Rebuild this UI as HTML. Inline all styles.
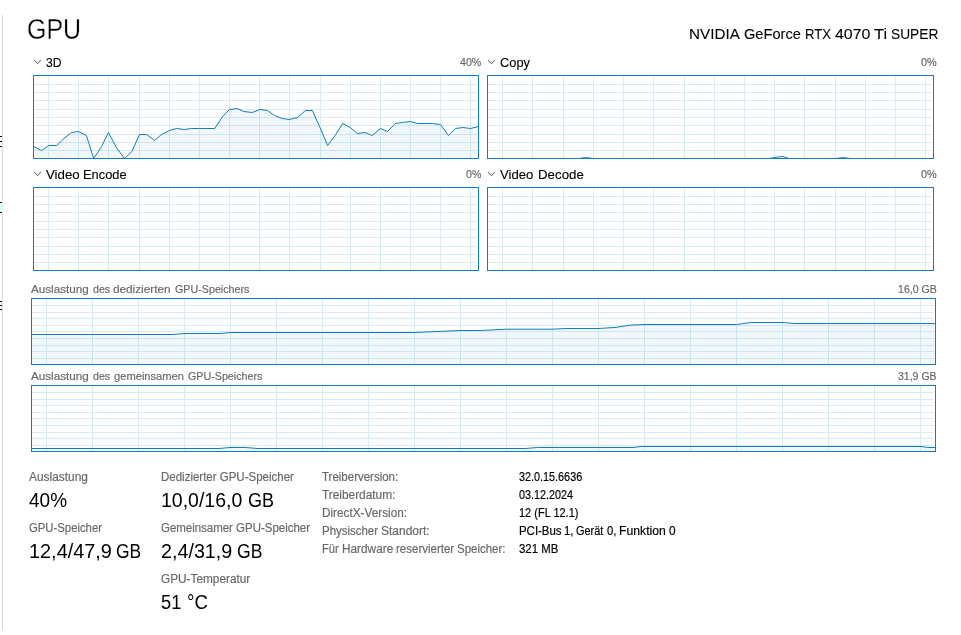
<!DOCTYPE html>
<html lang="de"><head><meta charset="utf-8"><title>GPU</title>
<style>
html,body{margin:0;padding:0;background:#fff;}
body{width:961px;height:635px;position:relative;overflow:hidden;font-family:"Liberation Sans",sans-serif;}
svg{position:absolute;left:0;top:0;}
.t{position:absolute;white-space:nowrap;transform-origin:0 0;display:block;}
</style></head><body>
<svg width="961" height="635" viewBox="0 0 961 635">
<path d="M34 84.5H477M34 92.5H477M34 100.5H477M34 109.5H477M34 117.5H477M34 125.5H477M34 134.5H477M34 142.5H477M34 150.5H477M48.5 76V158M78.5 76V158M108.5 76V158M139.5 76V158M169.5 76V158M199.5 76V158M229.5 76V158M259.5 76V158M289.5 76V158M320.5 76V158M350.5 76V158M380.5 76V158M410.5 76V158M440.5 76V158M470.5 76V158" fill="none" stroke="#d9eaf4" stroke-width="1" shape-rendering="crispEdges"/>
<path d="M33.8 146.5 L41.6 150.5 L48.7 145.5 L56.7 145.5 L64.0 138.5 L71.4 132.5 L78.3 131.5 L86.4 135.5 L93.7 158.5 L101.6 146.5 L108.4 132.5 L116.4 147.5 L124.6 158.5 L131.9 151.5 L139.5 134.5 L146.6 134.5 L154.5 140.5 L161.4 134.5 L169.3 130.5 L176.6 128.5 L184.1 129.5 L191.7 128.5 L199.3 128.5 L206.8 128.5 L214.8 128.5 L222.6 116.5 L229.5 109.5 L237.1 108.5 L244.0 111.5 L252.2 112.5 L259.8 109.5 L267.3 110.5 L274.6 115.5 L282.2 118.5 L289.3 119.5 L297.3 117.5 L305.5 110.5 L312.4 110.5 L320.0 127.5 L327.6 145.5 L335.7 134.5 L342.7 123.5 L350.3 127.5 L357.4 133.5 L365.0 132.5 L372.3 135.5 L380.5 128.5 L387.6 131.5 L395.4 123.5 L402.6 122.5 L410.3 121.5 L417.5 123.5 L425.1 123.5 L432.6 123.5 L440.4 124.5 L448.4 135.5 L455.6 128.5 L462.9 127.5 L470.4 128.5 L478.5 126.5 L478.5 158.5 L33.8 158.5 Z" fill="#117dbb" fill-opacity="0.06" stroke="none"/>
<path d="M33.8 146.5 L41.6 150.5 L48.7 145.5 L56.7 145.5 L64.0 138.5 L71.4 132.5 L78.3 131.5 L86.4 135.5 L93.7 158.5 L101.6 146.5 L108.4 132.5 L116.4 147.5 L124.6 158.5 L131.9 151.5 L139.5 134.5 L146.6 134.5 L154.5 140.5 L161.4 134.5 L169.3 130.5 L176.6 128.5 L184.1 129.5 L191.7 128.5 L199.3 128.5 L206.8 128.5 L214.8 128.5 L222.6 116.5 L229.5 109.5 L237.1 108.5 L244.0 111.5 L252.2 112.5 L259.8 109.5 L267.3 110.5 L274.6 115.5 L282.2 118.5 L289.3 119.5 L297.3 117.5 L305.5 110.5 L312.4 110.5 L320.0 127.5 L327.6 145.5 L335.7 134.5 L342.7 123.5 L350.3 127.5 L357.4 133.5 L365.0 132.5 L372.3 135.5 L380.5 128.5 L387.6 131.5 L395.4 123.5 L402.6 122.5 L410.3 121.5 L417.5 123.5 L425.1 123.5 L432.6 123.5 L440.4 124.5 L448.4 135.5 L455.6 128.5 L462.9 127.5 L470.4 128.5 L478.5 126.5" fill="none" stroke="#117dbb" stroke-width="1" stroke-linejoin="round"/>
<rect x="33.5" y="75.5" width="445" height="83" fill="none" stroke="#117dbb" stroke-width="1" shape-rendering="crispEdges"/>
<path d="M488 84.5H932M488 92.5H932M488 100.5H932M488 109.5H932M488 117.5H932M488 125.5H932M488 134.5H932M488 142.5H932M488 150.5H932M502.5 76V158M532.5 76V158M563.5 76V158M593.5 76V158M623.5 76V158M653.5 76V158M684.5 76V158M714.5 76V158M744.5 76V158M774.5 76V158M804.5 76V158M835.5 76V158M865.5 76V158M895.5 76V158M925.5 76V158" fill="none" stroke="#d9eaf4" stroke-width="1" shape-rendering="crispEdges"/>
<path d="M487.5 158.5 L579.5 158.5 L583.0 157.9 L586.0 157.7 L589.0 157.9 L592.5 158.5 L768.5 158.5 L775.0 157.6 L779.5 156.7 L783.5 156.7 L786.0 157.5 L789.0 158.5 L836.0 158.5 L840.0 157.9 L843.0 157.7 L846.0 157.9 L850.0 158.5 L933.5 158.5 L933.5 158.5 L487.5 158.5 Z" fill="#117dbb" fill-opacity="0.06" stroke="none"/>
<path d="M487.5 158.5 L579.5 158.5 L583.0 157.9 L586.0 157.7 L589.0 157.9 L592.5 158.5 L768.5 158.5 L775.0 157.6 L779.5 156.7 L783.5 156.7 L786.0 157.5 L789.0 158.5 L836.0 158.5 L840.0 157.9 L843.0 157.7 L846.0 157.9 L850.0 158.5 L933.5 158.5" fill="none" stroke="#117dbb" stroke-width="1" stroke-linejoin="round"/>
<rect x="487.5" y="75.5" width="446" height="83" fill="none" stroke="#117dbb" stroke-width="1" shape-rendering="crispEdges"/>
<path d="M34 196.5H477M34 204.5H477M34 212.5H477M34 221.5H477M34 229.5H477M34 237.5H477M34 246.5H477M34 254.5H477M34 262.5H477M48.5 188V270M78.5 188V270M108.5 188V270M139.5 188V270M169.5 188V270M199.5 188V270M229.5 188V270M259.5 188V270M289.5 188V270M320.5 188V270M350.5 188V270M380.5 188V270M410.5 188V270M440.5 188V270M470.5 188V270" fill="none" stroke="#d9eaf4" stroke-width="1" shape-rendering="crispEdges"/>
<rect x="33.5" y="187.5" width="445" height="83" fill="none" stroke="#117dbb" stroke-width="1" shape-rendering="crispEdges"/>
<path d="M488 196.5H932M488 204.5H932M488 212.5H932M488 221.5H932M488 229.5H932M488 237.5H932M488 246.5H932M488 254.5H932M488 262.5H932M502.5 188V270M532.5 188V270M563.5 188V270M593.5 188V270M623.5 188V270M653.5 188V270M684.5 188V270M714.5 188V270M744.5 188V270M774.5 188V270M804.5 188V270M835.5 188V270M865.5 188V270M895.5 188V270M925.5 188V270" fill="none" stroke="#d9eaf4" stroke-width="1" shape-rendering="crispEdges"/>
<rect x="487.5" y="187.5" width="446" height="83" fill="none" stroke="#117dbb" stroke-width="1" shape-rendering="crispEdges"/>
<path d="M32 305.5H934M32 312.5H934M32 318.5H934M32 325.5H934M32 331.5H934M32 338.5H934M32 345.5H934M32 351.5H934M32 358.5H934M46.5 299V364M92.5 299V364M138.5 299V364M184.5 299V364M230.5 299V364M276.5 299V364M322.5 299V364M368.5 299V364M414.5 299V364M460.5 299V364M506.5 299V364M552.5 299V364M598.5 299V364M644.5 299V364M690.5 299V364M736.5 299V364M782.5 299V364M828.5 299V364M874.5 299V364M920.5 299V364" fill="none" stroke="#d9eaf4" stroke-width="1" shape-rendering="crispEdges"/>
<path d="M31.5 334.5 L172.0 334.5 L185.0 333.5 L220.0 333.5 L230.5 332.5 L415.0 332.5 L460.0 330.5 L480.0 330.5 L506.5 329.2 L552.0 329.2 L567.0 328.5 L598.0 328.5 L615.0 327.5 L630.0 325.2 L644.0 324.5 L736.5 324.5 L751.0 322.5 L782.0 322.5 L795.0 323.5 L935.5 323.5 L935.5 364.5 L31.5 364.5 Z" fill="#117dbb" fill-opacity="0.06" stroke="none"/>
<path d="M31.5 334.5 L172.0 334.5 L185.0 333.5 L220.0 333.5 L230.5 332.5 L415.0 332.5 L460.0 330.5 L480.0 330.5 L506.5 329.2 L552.0 329.2 L567.0 328.5 L598.0 328.5 L615.0 327.5 L630.0 325.2 L644.0 324.5 L736.5 324.5 L751.0 322.5 L782.0 322.5 L795.0 323.5 L935.5 323.5" fill="none" stroke="#117dbb" stroke-width="1" stroke-linejoin="round"/>
<rect x="31.5" y="298.5" width="904" height="66" fill="none" stroke="#117dbb" stroke-width="1" shape-rendering="crispEdges"/>
<path d="M32 392.5H934M32 399.5H934M32 405.5H934M32 412.5H934M32 418.5H934M32 425.5H934M32 432.5H934M32 438.5H934M32 445.5H934M46.5 386V451M92.5 386V451M138.5 386V451M184.5 386V451M230.5 386V451M276.5 386V451M322.5 386V451M368.5 386V451M414.5 386V451M460.5 386V451M506.5 386V451M552.5 386V451M598.5 386V451M644.5 386V451M690.5 386V451M736.5 386V451M782.5 386V451M828.5 386V451M874.5 386V451M920.5 386V451" fill="none" stroke="#d9eaf4" stroke-width="1" shape-rendering="crispEdges"/>
<path d="M31.5 448.5 L219.0 448.5 L230.0 447.5 L245.0 447.5 L258.0 448.5 L525.0 448.5 L537.5 447.5 L633.0 447.5 L641.0 446.5 L921.0 446.5 L929.0 447.5 L935.5 447.5 L935.5 451.5 L31.5 451.5 Z" fill="#117dbb" fill-opacity="0.06" stroke="none"/>
<path d="M31.5 448.5 L219.0 448.5 L230.0 447.5 L245.0 447.5 L258.0 448.5 L525.0 448.5 L537.5 447.5 L633.0 447.5 L641.0 446.5 L921.0 446.5 L929.0 447.5 L935.5 447.5" fill="none" stroke="#117dbb" stroke-width="1" stroke-linejoin="round"/>
<rect x="31.5" y="385.5" width="904" height="66" fill="none" stroke="#117dbb" stroke-width="1" shape-rendering="crispEdges"/>
<path d="M34.5 60.5 L37.5 63.5 L40.5 60.5" fill="none" stroke="#787878" stroke-width="1.05" stroke-linecap="square"/>
<path d="M488.5 60.5 L491.5 63.5 L494.5 60.5" fill="none" stroke="#787878" stroke-width="1.05" stroke-linecap="square"/>
<path d="M34.5 172.5 L37.5 175.5 L40.5 172.5" fill="none" stroke="#787878" stroke-width="1.05" stroke-linecap="square"/>
<path d="M488.5 172.5 L491.5 175.5 L494.5 172.5" fill="none" stroke="#787878" stroke-width="1.05" stroke-linecap="square"/>
<rect x="2" y="15" width="1" height="615" fill="#d6d6d6" shape-rendering="crispEdges"/>
<rect x="0" y="136" width="2" height="1" fill="#000" shape-rendering="crispEdges"/>
<rect x="0" y="141" width="2" height="1" fill="#000" shape-rendering="crispEdges"/>
<rect x="0" y="146" width="2" height="1" fill="#000" shape-rendering="crispEdges"/>
<rect x="0" y="203" width="1" height="9" fill="#ccffff" shape-rendering="crispEdges"/>
<rect x="2" y="136" width="1" height="11" fill="#e4e4e4" shape-rendering="crispEdges"/>
<rect x="2" y="202" width="1" height="11" fill="#e4e4e4" shape-rendering="crispEdges"/>
<rect x="2" y="301" width="1" height="9" fill="#e4e4e4" shape-rendering="crispEdges"/>
<rect x="0" y="202" width="2" height="1" fill="#000" shape-rendering="crispEdges"/>
<rect x="0" y="212" width="2" height="1" fill="#000" shape-rendering="crispEdges"/>
<rect x="1" y="302" width="1" height="7" fill="#ffe6b3" shape-rendering="crispEdges"/>
<rect x="0" y="301" width="2" height="1" fill="#000" shape-rendering="crispEdges"/>
<rect x="0" y="305" width="2" height="1" fill="#000" shape-rendering="crispEdges"/>
<rect x="0" y="309" width="2" height="1" fill="#000" shape-rendering="crispEdges"/>
</svg>
<div class="l"><span class="t" style="left:26.61px;top:15px;font-size:29px;line-height:29px;color:#000000;transform:scaleX(0.8610);-webkit-text-stroke:0.3px #fff">GPU</span></div>
<div class="l"><span class="t" style="left:688.86px;top:26px;font-size:15.4px;line-height:15.4px;color:#000000;transform:scaleX(0.9900);-webkit-text-stroke:0.1px">NVIDIA</span> <span class="t" style="left:744.09px;top:26px;font-size:15.4px;line-height:15.4px;color:#000000;transform:scaleX(0.9487);-webkit-text-stroke:0.1px">GeForce</span> <span class="t" style="left:805.14px;top:26px;font-size:15.4px;line-height:15.4px;color:#000000;transform:scaleX(0.8487);-webkit-text-stroke:0.1px">RTX</span> <span class="t" style="left:835.04px;top:26px;font-size:15.4px;line-height:15.4px;color:#000000;transform:scaleX(1.0328);-webkit-text-stroke:0.1px">4070</span> <span class="t" style="left:874.33px;top:26px;font-size:15.4px;line-height:15.4px;color:#000000;transform:scaleX(1.0636);-webkit-text-stroke:0.1px">Ti</span> <span class="t" style="left:891.13px;top:26px;font-size:15.4px;line-height:15.4px;color:#000000;transform:scaleX(0.8932);-webkit-text-stroke:0.1px">SUPER</span></div>
<div class="l"><span class="t" style="left:46.13px;top:56px;font-size:13px;line-height:13px;color:#000000;transform:scaleX(0.9355);-webkit-text-stroke:0.12px">3D</span></div>
<div class="l"><span class="t" style="left:459.77px;top:57px;font-size:11.5px;line-height:11.5px;color:#686868;transform:scaleX(0.9244);-webkit-text-stroke:0.18px">40%</span></div>
<div class="l"><span class="t" style="left:499.76px;top:56px;font-size:13px;line-height:13px;color:#000000;transform:scaleX(0.9864);-webkit-text-stroke:0.12px">Copy</span></div>
<div class="l"><span class="t" style="left:920.63px;top:57px;font-size:11.5px;line-height:11.5px;color:#686868;transform:scaleX(0.9460);-webkit-text-stroke:0.18px">0%</span></div>
<div class="l"><span class="t" style="left:46.00px;top:168px;font-size:13px;line-height:13px;color:#000000;transform:scaleX(1.0185);-webkit-text-stroke:0.12px">Video</span> <span class="t" style="left:83.31px;top:168px;font-size:13px;line-height:13px;color:#000000;transform:scaleX(0.9882);-webkit-text-stroke:0.12px">Encode</span></div>
<div class="l"><span class="t" style="left:465.84px;top:169px;font-size:11.5px;line-height:11.5px;color:#686868;transform:scaleX(0.9206);-webkit-text-stroke:0.18px">0%</span></div>
<div class="l"><span class="t" style="left:500.30px;top:168px;font-size:13px;line-height:13px;color:#000000;transform:scaleX(1.0123);-webkit-text-stroke:0.12px">Video</span> <span class="t" style="left:537.58px;top:168px;font-size:13px;line-height:13px;color:#000000;transform:scaleX(1.0220);-webkit-text-stroke:0.12px">Decode</span></div>
<div class="l"><span class="t" style="left:920.63px;top:169px;font-size:11.5px;line-height:11.5px;color:#686868;transform:scaleX(0.9460);-webkit-text-stroke:0.18px">0%</span></div>
<div class="l"><span class="t" style="left:31.20px;top:284px;font-size:11.5px;line-height:11.5px;color:#686868;transform:scaleX(1.0151);-webkit-text-stroke:0.18px">Auslastung</span> <span class="t" style="left:92.54px;top:284px;font-size:11.5px;line-height:11.5px;color:#686868;transform:scaleX(0.9239);-webkit-text-stroke:0.18px">des</span> <span class="t" style="left:113.49px;top:284px;font-size:11.5px;line-height:11.5px;color:#686868;transform:scaleX(1.0218);-webkit-text-stroke:0.18px">dedizierten</span> <span class="t" style="left:174.53px;top:284px;font-size:11.5px;line-height:11.5px;color:#686868;transform:scaleX(0.9316);-webkit-text-stroke:0.18px">GPU-Speichers</span></div>
<div class="l"><span class="t" style="left:898.01px;top:284px;font-size:11.5px;line-height:11.5px;color:#686868;transform:scaleX(0.9202);-webkit-text-stroke:0.18px">16,0 GB</span></div>
<div class="l"><span class="t" style="left:31.20px;top:371px;font-size:11.5px;line-height:11.5px;color:#686868;transform:scaleX(1.0151);-webkit-text-stroke:0.18px">Auslastung</span> <span class="t" style="left:92.54px;top:371px;font-size:11.5px;line-height:11.5px;color:#686868;transform:scaleX(0.9239);-webkit-text-stroke:0.18px">des</span> <span class="t" style="left:113.52px;top:371px;font-size:11.5px;line-height:11.5px;color:#686868;transform:scaleX(0.9690);-webkit-text-stroke:0.18px">gemeinsamen</span> <span class="t" style="left:187.53px;top:371px;font-size:11.5px;line-height:11.5px;color:#686868;transform:scaleX(0.9304);-webkit-text-stroke:0.18px">GPU-Speichers</span></div>
<div class="l"><span class="t" style="left:898.24px;top:371px;font-size:11.5px;line-height:11.5px;color:#686868;transform:scaleX(0.9146);-webkit-text-stroke:0.18px">31,9 GB</span></div>
<div class="l"><span class="t" style="left:29.30px;top:471px;font-size:12px;line-height:12px;color:#686868;transform:scaleX(0.9932);-webkit-text-stroke:0.18px">Auslastung</span></div>
<div class="l"><span class="t" style="left:29.01px;top:491px;font-size:19.3px;line-height:19.3px;color:#000000;transform:scaleX(0.9867)">40%</span></div>
<div class="l"><span class="t" style="left:29.03px;top:522px;font-size:12px;line-height:12px;color:#686868;transform:scaleX(0.9433);-webkit-text-stroke:0.18px">GPU-Speicher</span></div>
<div class="l"><span class="t" style="left:28.65px;top:542px;font-size:19.3px;line-height:19.3px;color:#000000;transform:scaleX(1.0308)">12,4/47,9</span> <span class="t" style="left:116.30px;top:542px;font-size:19.3px;line-height:19.3px;color:#000000;transform:scaleX(0.9049)">GB</span></div>
<div class="l"><span class="t" style="left:160.64px;top:471px;font-size:12px;line-height:12px;color:#686868;transform:scaleX(0.9578);-webkit-text-stroke:0.18px">Dedizierter GPU-Speicher</span></div>
<div class="l"><span class="t" style="left:161.18px;top:491px;font-size:19.3px;line-height:19.3px;color:#000000;transform:scaleX(1.0109)">10,0/16,0</span> <span class="t" style="left:247.77px;top:491px;font-size:19.3px;line-height:19.3px;color:#000000;transform:scaleX(0.9320)">GB</span></div>
<div class="l"><span class="t" style="left:161.12px;top:522px;font-size:12px;line-height:12px;color:#686868;transform:scaleX(0.9546);-webkit-text-stroke:0.18px">Gemeinsamer GPU-Speicher</span></div>
<div class="l"><span class="t" style="left:161.18px;top:542px;font-size:19.3px;line-height:19.3px;color:#000000;transform:scaleX(1.0229)">2,4/31,9</span> <span class="t" style="left:237.09px;top:542px;font-size:19.3px;line-height:19.3px;color:#000000;transform:scaleX(0.9087)">GB</span></div>
<div class="l"><span class="t" style="left:161.11px;top:573px;font-size:12px;line-height:12px;color:#686868;transform:scaleX(0.9844);-webkit-text-stroke:0.18px">GPU-Temperatur</span></div>
<div class="l"><span class="t" style="left:161.49px;top:593px;font-size:19.3px;line-height:19.3px;color:#000000;transform:scaleX(0.9468)">51</span> <span class="t" style="left:187.39px;top:593px;font-size:19.3px;line-height:19.3px;color:#000000;transform:scaleX(0.9692)">°C</span></div>
<div class="l"><span class="t" style="left:322.36px;top:471px;font-size:12px;line-height:12px;color:#686868;transform:scaleX(0.9572);-webkit-text-stroke:0.18px">Treiberversion:</span></div>
<div class="l"><span class="t" style="left:322.35px;top:489px;font-size:12px;line-height:12px;color:#686868;transform:scaleX(0.9877);-webkit-text-stroke:0.18px">Treiberdatum:</span></div>
<div class="l"><span class="t" style="left:321.62px;top:507px;font-size:12px;line-height:12px;color:#686868;transform:scaleX(0.9811);-webkit-text-stroke:0.18px">DirectX-Version:</span></div>
<div class="l"><span class="t" style="left:321.65px;top:525px;font-size:12px;line-height:12px;color:#686868;transform:scaleX(0.9548);-webkit-text-stroke:0.18px">Physischer</span> <span class="t" style="left:381.20px;top:525px;font-size:12px;line-height:12px;color:#686868;transform:scaleX(0.9979);-webkit-text-stroke:0.18px">Standort:</span></div>
<div class="l"><span class="t" style="left:321.67px;top:543px;font-size:12px;line-height:12px;color:#686868;transform:scaleX(0.9313);-webkit-text-stroke:0.18px">Für</span> <span class="t" style="left:341.72px;top:543px;font-size:12px;line-height:12px;color:#686868;transform:scaleX(0.9842);-webkit-text-stroke:0.18px">Hardware</span> <span class="t" style="left:395.78px;top:543px;font-size:12px;line-height:12px;color:#686868;transform:scaleX(0.9590);-webkit-text-stroke:0.18px">reservierter</span> <span class="t" style="left:457.22px;top:543px;font-size:12px;line-height:12px;color:#686868;transform:scaleX(0.9571);-webkit-text-stroke:0.18px">Speicher:</span></div>
<div class="l"><span class="t" style="left:519.05px;top:471px;font-size:12px;line-height:12px;color:#000000;transform:scaleX(0.9014);-webkit-text-stroke:0.18px">32.0.15.6636</span></div>
<div class="l"><span class="t" style="left:519.05px;top:489px;font-size:12px;line-height:12px;color:#000000;transform:scaleX(0.8996);-webkit-text-stroke:0.18px">03.12.2024</span></div>
<div class="l"><span class="t" style="left:518.58px;top:507px;font-size:12px;line-height:12px;color:#000000;transform:scaleX(0.9154);-webkit-text-stroke:0.18px">12 (FL 12.1)</span></div>
<div class="l"><span class="t" style="left:518.55px;top:525px;font-size:12px;line-height:12px;color:#000000;transform:scaleX(0.9526);-webkit-text-stroke:0.18px">PCI-Bus</span> <span class="t" style="left:564.25px;top:525px;font-size:12px;line-height:12px;color:#000000;transform:scaleX(0.9500);-webkit-text-stroke:0.18px">1,</span> <span class="t" style="left:575.75px;top:525px;font-size:12px;line-height:12px;color:#000000;transform:scaleX(0.9085);-webkit-text-stroke:0.18px">Gerät</span> <span class="t" style="left:607.13px;top:525px;font-size:12px;line-height:12px;color:#000000;transform:scaleX(0.9412);-webkit-text-stroke:0.18px">0,</span> <span class="t" style="left:618.68px;top:525px;font-size:12px;line-height:12px;color:#000000;transform:scaleX(1.0192);-webkit-text-stroke:0.18px">Funktion</span> <span class="t" style="left:668.90px;top:525px;font-size:12px;line-height:12px;color:#000000;transform:scaleX(0.9913);-webkit-text-stroke:0.18px">0</span></div>
<div class="l"><span class="t" style="left:519.03px;top:543px;font-size:12px;line-height:12px;color:#000000;transform:scaleX(0.9491);-webkit-text-stroke:0.18px">321 MB</span></div>
</body></html>
